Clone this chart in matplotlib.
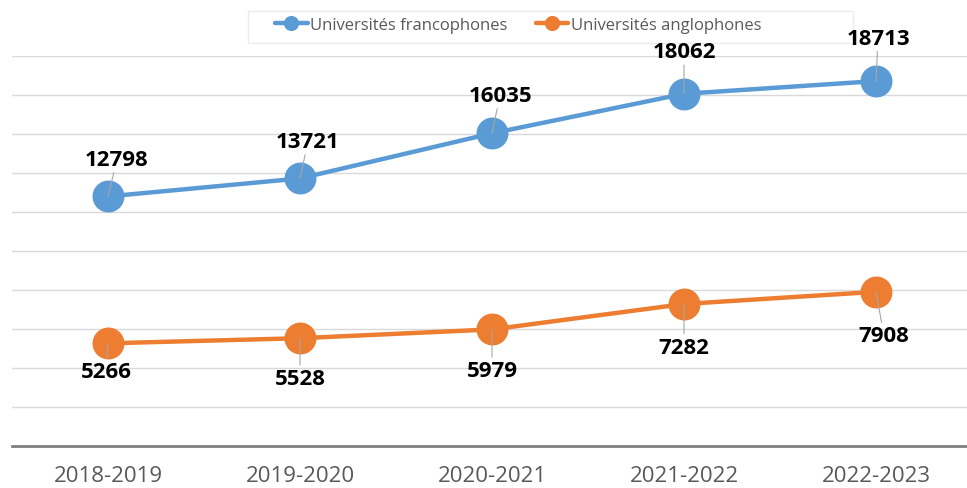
import matplotlib
matplotlib.use("Agg")
import matplotlib.pyplot as plt
from matplotlib.patches import Rectangle

categories = ["2018-2019", "2019-2020", "2020-2021", "2021-2022", "2022-2023"]
franco = [12798, 13721, 16035, 18062, 18713]
anglo = [5266, 5528, 5979, 7282, 7908]
series_names = ["Universités francophones", "Universités anglophones"]

# label offsets (pixels) relative to markers
franco_off = [(9, 37), (8, 37), (8, 38), (0, 42), (2, 43)]
anglo_off = [(-2, -28), (0, -40), (0, -41), (0, -43), (8, -44)]

W, H = 967, 489
fig = plt.figure(figsize=(W / 100, H / 100), dpi=100)
fig.patch.set_facecolor("white")
ax = fig.add_axes([12 / W, 42 / H, 955 / W, 390 / H])
ax.set_zorder(2)
ax.patch.set_alpha(0)
x = list(range(len(categories)))

blue = "#5B9BD5"
orange = "#ED7D31"
ax.plot(x, franco, color=blue, lw=3.2, marker="o", ms=22, zorder=3, label=series_names[0],
        solid_capstyle="round")
ax.plot(x, anglo, color=orange, lw=3.2, marker="o", ms=22, zorder=3, label=series_names[1],
        solid_capstyle="round")

ax.set_xlim(-0.5, 4.5 - 5 / 192)
ax.set_ylim(0, 20000)
ax.set_yticks(range(0, 20001, 2000))
ax.yaxis.grid(True, color="#d9d9d9", lw=1)
ax.set_axisbelow(True)
ax.tick_params(axis="y", left=False, labelleft=False)
ax.tick_params(axis="x", length=0, pad=14)
ax.set_xticks(x)
ax.set_xticklabels(categories, fontsize=16, color="#595959", family="Open Sans")
for s in ["left", "right", "top"]:
    ax.spines[s].set_visible(False)
ax.spines["bottom"].set_color("#7f7f7f")
ax.spines["bottom"].set_linewidth(2)

def label(vals, offs):
    for xi, v, (dx, dy) in zip(x, vals, offs):
        ax.annotate(str(v), xy=(xi, v), xytext=(dx * 0.72, dy * 0.72), textcoords="offset points",
                    ha="center", va="center", fontsize=16, fontweight="bold", family="Open Sans",
                    color="black", zorder=5, annotation_clip=False,
                    arrowprops=dict(arrowstyle="-", color="#a6a6a6", lw=0.8, shrinkA=0, shrinkB=0))

label(franco, franco_off)
label(anglo, anglo_off)

# legend frame
fig.patches.append(Rectangle((248 / W, 1 - 44 / H), 605 / W, 32 / H, transform=fig.transFigure,
                             facecolor="white", edgecolor="#ececec", lw=1, zorder=0))
leg = fig.legend(loc="center left", bbox_to_anchor=(275 / W, 1 - 26 / H), ncol=2, frameon=False,
                 prop={"family": "Open Sans", "size": 12}, borderpad=0, borderaxespad=0,
                 handlelength=1.95, handletextpad=0.15, columnspacing=1.7, markerscale=0.45)
leg.set_zorder(3)
for t in leg.get_texts():
    t.set_color("#595959")

fig.savefig("out.png", dpi=100)
